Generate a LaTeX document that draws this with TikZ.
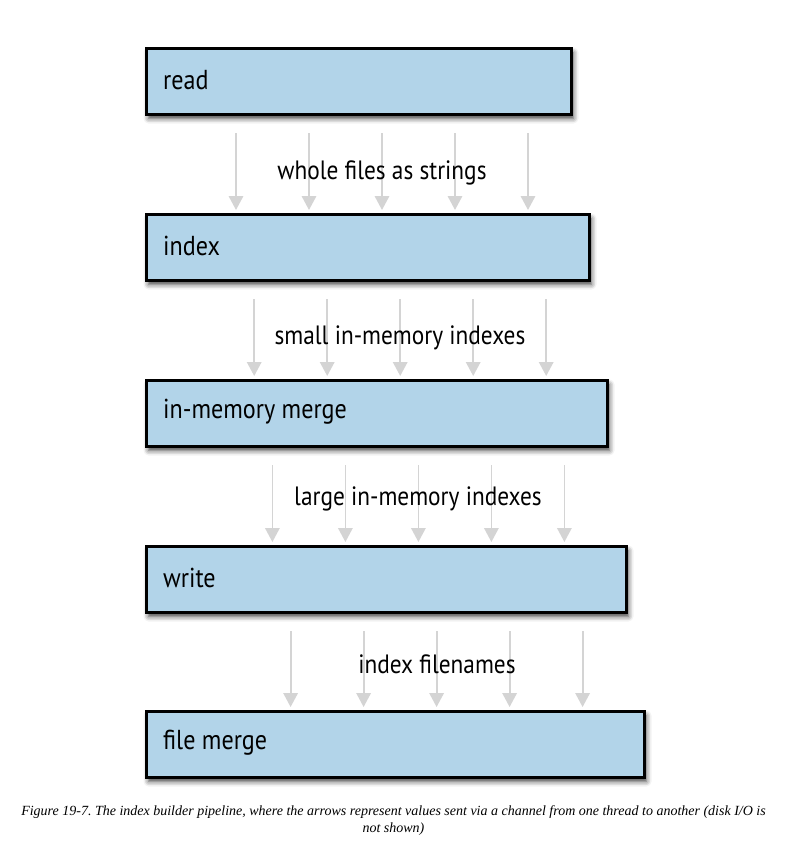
\documentclass[tikz,border=0pt]{standalone}
\usepackage{fontspec}
\setmainfont{Liberation Serif}
\newfontfamily\labfont[FakeStretch=0.88]{PT Sans}
\usetikzlibrary{shadows.blur,arrows.meta}
\definecolor{boxblue}{HTML}{B2D4E9}
\definecolor{arrgray}{HTML}{D4D4D4}
\tikzset{
  stagebox/.style={draw=black, line width=3pt, fill=boxblue,
    blur shadow={shadow xshift=2pt, shadow yshift=-4pt, shadow blur radius=5pt, shadow opacity=75}},
  stagetext/.style={anchor=west, font=\labfont\fontsize{27.4}{30}\selectfont, inner sep=0pt},
  flowarrow/.style={draw=arrgray, line width=1.8pt, -{Triangle[width=14.5pt,length=14pt]}},
  flowlabel/.style={font=\labfont\fontsize{26.5}{30}\selectfont, inner sep=1pt}
}
\begin{document}
\begin{tikzpicture}[x=1pt,y=-1pt]
\useasboundingbox (0,0) rectangle (787,852);
% boxes
\foreach \i/\r/\t/\txt in {1/570/47/read, 2/588/213/index, 3/606/379/in-memory merge, 4/625/545/write, 5/643/710/file merge}{
  \node[stagebox, inner sep=0pt, minimum width={\r-145}, minimum height=66, anchor=north west] (b\i) at (145,\t) {};
  \node[stagetext] (t\i) at (163,\t+33) {\txt};
}
% arrows
\foreach \g/\bot/\top in {0/113/213, 1/279/379, 2/445/545, 3/611/710}{
  \foreach \k in {0,...,4}{
    \coordinate (s\g\k) at ({236+18.2*\g+73*\k},{\bot+20});
    \coordinate (e\g\k) at ({236+18.2*\g+73*\k},{\top-3});
    \draw[flowarrow] (s\g\k) -- (e\g\k);
  }
}
% labels
\node[flowlabel] (l1) at (382,173) {whole files as strings};
\node[flowlabel] (l2) at (400,338) {small in-memory indexes};
\node[flowlabel] (l3) at (418,499) {large in-memory indexes};
\node[flowlabel] (l4) at (437,664) {index filenames};
% caption
\node[font=\itshape\fontsize{14}{17}\selectfont, align=center, inner sep=0pt] (cap) at (393.5,821)
  {\frenchspacing Figure 19-7. The index builder pipeline, where the arrows represent values sent via a channel from one thread to another (disk I/O is\\ not shown)};
\end{tikzpicture}
\end{document}
